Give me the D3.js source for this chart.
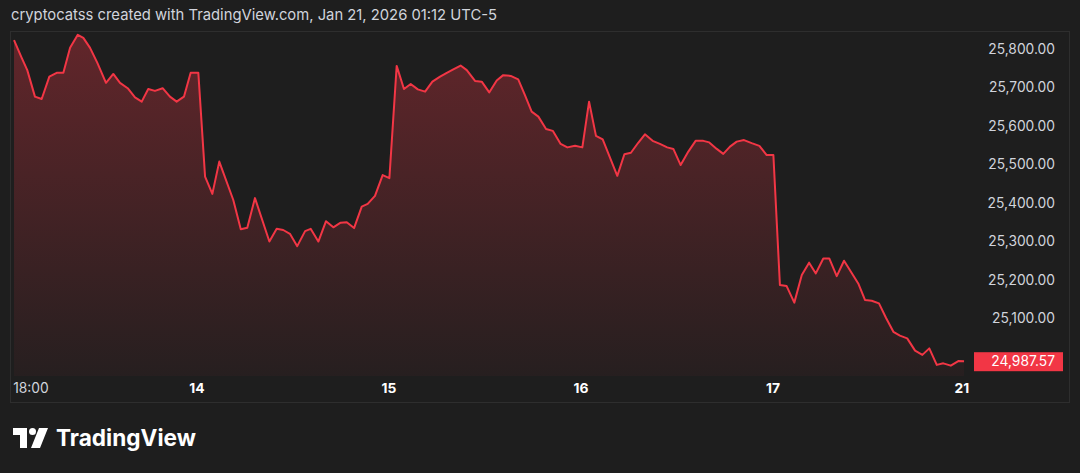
<!DOCTYPE html>
<html><head><meta charset="utf-8">
<script src="https://cdn.jsdelivr.net/npm/d3@7"></script>
<style>html,body{margin:0;padding:0;background:#1e1e1e;}svg{display:block;font-family:"Inter","Noto Sans",sans-serif;}</style>
</head><body>
<script>
const times = [0.047,0.087,0.116,0.156,0.191,0.231,0.269,0.304,0.339,0.379,0.408,0.443,0.481,0.526,0.564,0.599,0.639,0.677,0.712,0.746,0.781,0.821,0.859,0.894,0.932,0.967,1.007,1.042,1.080,1.116,1.189,1.228,1.262,1.302,1.377,1.415,1.449,1.484,1.522,1.563,1.592,1.632,1.672,1.710,1.748,1.780,1.818,1.858,1.889,1.927,1.967,2.002,2.040,2.078,2.113,2.150,2.188,2.226,2.266,2.301,2.335,2.373,2.405,2.448,2.483,2.522,2.561,2.595,2.634,2.673,2.708,2.743,2.778,2.818,2.853,2.894,2.929,2.969,3.007,3.042,3.078,3.113,3.189,3.226,3.260,3.298,3.333,3.373,3.411,3.449,3.481,3.519,3.559,3.597,3.637,3.668,3.707,3.741,3.776,3.811,3.849,3.889,3.929,3.967,4.002,4.036,4.071,4.111,4.150,4.188,4.223,4.262,4.293,4.332,4.370,4.405,4.444,4.479,4.514,4.552,4.589,4.627,4.661,4.699,4.740,4.778,4.814,4.853,4.887,4.926,4.965,4.995];
const prices = [25823,25777,25745,25676,25670,25728,25738,25738,25803,25837,25829,25803,25764,25712,25735,25712,25698,25674,25663,25696,25691,25698,25676,25663,25676,25738,25738,25468,25423,25507,25407,25331,25335,25412,25299,25332,25329,25319,25287,25326,25332,25299,25352,25336,25348,25349,25334,25390,25397,25418,25472,25464,25756,25696,25709,25695,25689,25715,25728,25738,25747,25757,25745,25717,25715,25687,25718,25732,25730,25721,25680,25637,25624,25592,25587,25553,25544,25548,25544,25663,25574,25565,25470,25526,25530,25556,25578,25561,25553,25544,25540,25498,25533,25561,25561,25557,25540,25527,25546,25559,25563,25555,25548,25524,25524,25186,25183,25140,25212,25244,25216,25255,25255,25209,25249,25221,25190,25147,25145,25138,25100,25064,25054,25047,25015,25004,25021,24978,24982,24976,24988,24987.57];
const xTickPos = [0.135,1,2,3,4,4.984];
const xTickLabels = ["18:00","14","15","16","17","21"];
const yTicks = [25100,25200,25300,25400,25500,25600,25700,25800];
const lastPrice = 24987.57;

const W=1080,H=473;
const svg=d3.select("body").append("svg").attr("width",W).attr("height",H);
svg.append("rect").attr("width",W).attr("height",H).attr("fill","#1e1e1e");
svg.append("text").attr("x",11).attr("y",20).attr("fill","#d1d4dc").attr("font-size",14.8).text("cryptocatss created with TradingView.com, Jan 21, 2026 01:12 UTC-5");
svg.append("rect").attr("x",10.5).attr("y",31.5).attr("width",1059).attr("height",371).attr("fill","none").attr("stroke","#2e2e2e");

const x=d3.scaleLinear().domain([1,4]).range([197,773]);
const y=d3.scaleLinear().domain([25100,25800]).range([318,49]);
const bottom=376;
const data=times.map((t,i)=>({t,v:prices[i]}));
const defs=svg.append("defs");
const g=defs.append("linearGradient").attr("id","gr").attr("gradientUnits","userSpaceOnUse").attr("x1",0).attr("x2",0).attr("y1",35).attr("y2",bottom);
g.append("stop").attr("offset","0%").attr("stop-color","#f23645").attr("stop-opacity",0.32);
g.append("stop").attr("offset","100%").attr("stop-color","#f23645").attr("stop-opacity",0.04);
svg.append("path").datum(data).attr("fill","url(#gr)")
 .attr("d",d3.area().x(d=>x(d.t)).y0(bottom).y1(d=>y(d.v)));
svg.append("path").datum(data).attr("fill","none").attr("stroke","#f23645").attr("stroke-width",2).attr("stroke-linejoin","round")
 .attr("d",d3.line().x(d=>x(d.t)).y(d=>y(d.v)));

const fmt=d3.format(",.2f");
svg.append("g").selectAll("text").data(yTicks).join("text")
 .attr("x",1055).attr("y",d=>y(d)+5).attr("text-anchor","end").attr("fill","#d1d4dc").attr("font-size",13.8).text(d=>fmt(d));
svg.append("rect").attr("x",974).attr("y",y(lastPrice)-9).attr("width",89).attr("height",19).attr("fill","#f23645");
svg.append("text").attr("x",1055).attr("y",y(lastPrice)+5).attr("text-anchor","end").attr("fill","#ffffff").attr("font-size",13.8).text(fmt(lastPrice));

svg.append("g").selectAll("text").data(xTickPos).join("text")
 .attr("x",d=>x(d)).attr("y",393).attr("text-anchor","middle")
 .attr("fill",(d,i)=>i===0?"#d1d4dc":"#ffffff").attr("font-weight",(d,i)=>i===0?400:700).attr("font-size",13.8)
 .text((d,i)=>xTickLabels[i]);

const lg=svg.append("g").attr("transform","translate(13,428)");
lg.append("path").attr("d","M0 0 H14 V20 H7 V7 H0 Z").attr("fill","#ffffff");
lg.append("circle").attr("cx",19.5).attr("cy",3.5).attr("r",3.5).attr("fill","#ffffff");
lg.append("path").attr("d","M26 0 H35 L27 20 H18 Z").attr("fill","#ffffff");
svg.append("text").attr("x",56).attr("y",446).attr("fill","#ffffff").attr("font-size",22.6).attr("font-weight",700).text("TradingView");
</script>
</body></html>
